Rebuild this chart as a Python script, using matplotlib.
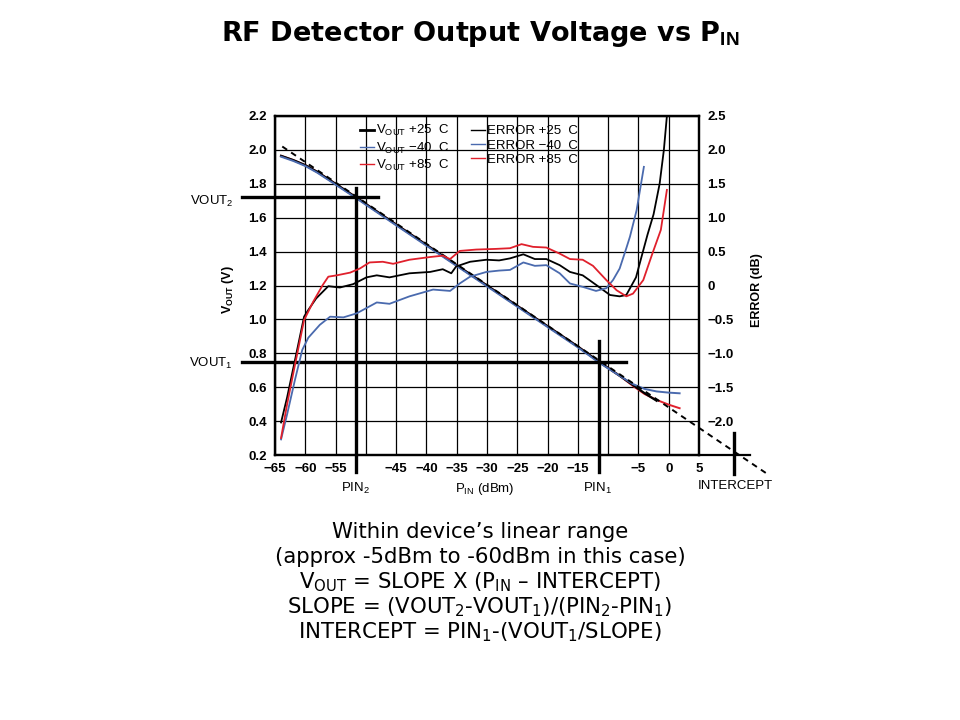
import numpy as np
import matplotlib
matplotlib.use('Agg')
import matplotlib.pyplot as plt

plt.rcParams['font.family'] = ['Liberation Sans', 'DejaVu Sans']
plt.rcParams['mathtext.fontset'] = 'custom'
plt.rcParams['mathtext.rm'] = 'Liberation Sans'
plt.rcParams['mathtext.bf'] = 'Liberation Sans:bold'

# ---- data ----
# output voltage curves (left axis, V)
pin_vout = [-64, -62, -60, -58, -55, -51.6, -45, -40, -35, -30, -25, -20, -15, -11.5, -8, -6, -4, -2, 0, 1.8]
vout_25 = [1.965, 1.94, 1.91, 1.87, 1.80, 1.72, 1.56, 1.44, 1.32, 1.20, 1.08, 0.96, 0.84, 0.75,
           0.665, 0.615, 0.565, 0.52, np.nan, np.nan]
vout_m40 = [1.96, 1.935, 1.905, 1.865, 1.795, 1.715, 1.555, 1.435, 1.315, 1.195, 1.075, 0.955, 0.835, 0.745,
            0.665, 0.62, 0.59, 0.575, 0.568, 0.564]
vout_85 = [1.965, 1.94, 1.91, 1.87, 1.80, 1.72, 1.56, 1.44, 1.32, 1.20, 1.08, 0.96, 0.84, 0.75,
           0.665, 0.61, 0.56, 0.525, 0.497, 0.476]

# ideal (dashed) line end points
pin_ideal = [-63.8, 16.2]
vout_ideal = [2.02, 0.09]

# error curves (right axis, dB)
pin_err_25 = [-64.0, -63.0, -61.7, -60.2, -59.5, -58.2, -56.2, -54.3, -52.1, -49.9, -48.2, -46.1, -42.8,
              -39.4, -37.3, -35.9, -35.1, -32.8, -30.1, -28.0, -26.2, -24.0, -22.1, -20.2, -18.0, -16.3,
              -14.2, -12.0, -9.7, -8.1, -7.0, -5.4, -4.5, -3.5, -2.5, -1.5, -0.8, -0.3]
err_25 = [-2.02, -1.65, -1.10, -0.46, -0.36, -0.19, -0.01, -0.03, 0.02, 0.12, 0.15, 0.12, 0.18,
          0.20, 0.24, 0.18, 0.28, 0.35, 0.38, 0.37, 0.40, 0.46, 0.39, 0.39, 0.30, 0.20,
          0.15, 0.01, -0.14, -0.16, -0.14, 0.12, 0.42, 0.75, 1.05, 1.50, 2.00, 2.50]

pin_err_m40 = [-64.0, -63.0, -61.7, -60.5, -59.5, -57.6, -55.9, -53.7, -51.5, -48.2, -46.1, -42.8, -38.9,
               -36.1, -34.5, -32.8, -30.1, -28.0, -26.2, -24.0, -22.1, -20.2, -18.0, -16.3, -14.2, -12.0,
               -10.3, -9.2, -8.1, -7.0, -6.4, -5.3, -4.1]
err_m40 = [-2.27, -1.90, -1.39, -0.95, -0.77, -0.58, -0.46, -0.47, -0.41, -0.25, -0.27, -0.16, -0.06,
           -0.08, 0.03, 0.13, 0.20, 0.22, 0.23, 0.34, 0.29, 0.30, 0.18, 0.03, -0.02, -0.08,
           -0.04, 0.08, 0.25, 0.55, 0.72, 1.11, 1.75]

pin_err_85 = [-64.0, -63.0, -61.7, -60.2, -58.7, -57.1, -56.2, -54.8, -52.6, -51.0, -49.4, -47.2, -45.5,
              -42.8, -39.4, -37.3, -36.1, -34.5, -31.8, -28.5, -26.2, -24.3, -22.4, -20.2, -18.0, -16.3,
              -14.2, -12.5, -10.3, -8.6, -7.0, -5.9, -4.2, -2.7, -1.3, -0.3]
err_85 = [-2.25, -1.75, -1.17, -0.51, -0.24, 0.01, 0.13, 0.15, 0.19, 0.25, 0.34, 0.35, 0.32,
          0.38, 0.42, 0.44, 0.39, 0.51, 0.53, 0.54, 0.55, 0.61, 0.57, 0.56, 0.47, 0.39,
          0.38, 0.29, 0.08, -0.07, -0.16, -0.12, 0.08, 0.47, 0.82, 1.41]

# construction lines
pin1, pin2, intercept = -11.5, -51.6, 10.7
vout1, vout2 = 0.75, 1.72

xtick_vals = [-65, -60, -55, -50, -45, -40, -35, -30, -25, -20, -15, -10, -5, 0, 5]
xtick_labels = ['\u221265', '\u221260', '\u221255', '', '\u221245', '\u221240', '\u221235', '\u221230',
                '\u221225', '\u221220', '\u221215', '', '\u22125', '0', '5']
ytick_vals = [0.2, 0.4, 0.6, 0.8, 1.0, 1.2, 1.4, 1.6, 1.8, 2.0, 2.2]
ytick_labels = ['0.2', '0.4', '0.6', '0.8', '1.0', '1.2', '1.4', '1.6', '1.8', '2.0', '2.2']
y2tick_vals = [-2.5, -2.0, -1.5, -1.0, -0.5, 0, 0.5, 1.0, 1.5, 2.0, 2.5]
y2tick_labels = ['', '\u22122.0', '\u22121.5', '\u22121.0', '\u22120.5', '0', '0.5', '1.0', '1.5', '2.0', '2.5']

black = 'black'
blue = '#4a6aae'
red = '#e0202c'

fig = plt.figure(figsize=(9.6, 7.2), dpi=100)
ax = fig.add_axes([275 / 960, 1 - 455 / 720, 424 / 960, 339 / 720])

ax.set_xlim(-65, 5)
ax.set_ylim(0.2, 2.2)
ax.set_xticks(xtick_vals)
ax.set_xticklabels(xtick_labels)
ax.set_yticks(ytick_vals)
ax.set_yticklabels(ytick_labels)
ax.grid(True, color='black', linewidth=0.9)
ax.set_axisbelow(True)
ax.tick_params(length=0, labelsize=9.5, pad=6)
for lab in ax.get_xticklabels() + ax.get_yticklabels():
    lab.set_fontweight('bold')
for sp in ax.spines.values():
    sp.set_linewidth(1.6)

# vout curves
ax.plot(pin_vout, vout_85, color=red, lw=1.4, zorder=3)
ax.plot(pin_vout, vout_25, color=black, lw=1.6, zorder=3)
ax.plot(pin_vout, vout_m40, color=blue, lw=1.4, zorder=3)
ax.plot(pin_ideal, vout_ideal, color='black', lw=1.4, ls=(0, (3, 2.5)), zorder=4, clip_on=False)

# construction lines
ax.plot([-70.4, -48.0], [vout2, vout2], color='black', lw=2.4, clip_on=False, zorder=5)
ax.plot([pin2, pin2], [0.10, 1.775], color='black', lw=2.4, clip_on=False, zorder=5)
ax.plot([-70.4, -7.1], [vout1, vout1], color='black', lw=2.4, clip_on=False, zorder=5)
ax.plot([pin1, pin1], [0.10, 0.87], color='black', lw=2.4, clip_on=False, zorder=5)
ax.plot([intercept, intercept], [0.09, 0.33], color='black', lw=2.4, clip_on=False, zorder=5)
ax.plot([5, 13.4], [0.2, 0.2], color='black', lw=1.6, clip_on=False, zorder=5)

# error curves on the right axis
ax2 = ax.twinx()
ax2.set_ylim(-2.5, 2.5)
ax2.set_yticks(y2tick_vals)
ax2.set_yticklabels(y2tick_labels)
ax2.tick_params(length=0, labelsize=9.5, pad=6)
for lab in ax2.get_yticklabels():
    lab.set_fontweight('bold')
for sp in ax2.spines.values():
    sp.set_linewidth(1.6)
ax2.plot(pin_err_25, err_25, color=black, lw=1.3)
ax2.plot(pin_err_m40, err_m40, color=blue, lw=1.3)
ax2.plot(pin_err_85, err_85, color=red, lw=1.3)

# legend
h = [
    ax2.plot([], [], color=black, lw=2.0, label='V$_{\\mathregular{OUT}}$ +25  C')[0],
    ax2.plot([], [], color=blue, lw=1.0, label='V$_{\\mathregular{OUT}}$ \u221240  C')[0],
    ax2.plot([], [], color=red, lw=1.0, label='V$_{\\mathregular{OUT}}$ +85  C')[0],
    ax2.plot([], [], color=black, lw=1.0, label='ERROR +25  C')[0],
    ax2.plot([], [], color=blue, lw=1.0, label='ERROR \u221240  C')[0],
    ax2.plot([], [], color=red, lw=1.0, label='ERROR +85  C')[0],
]
ax2.legend(handles=h, ncol=2, frameon=False, loc='upper left', bbox_to_anchor=(0.19, 0.99),
           fontsize=9.5, handlelength=1.1, handletextpad=0.15, columnspacing=1.6,
           labelspacing=0.15, borderpad=0.1, borderaxespad=0.2)

# axis titles
fig.text(228 / 960, 1 - 290 / 720, '$\\mathbf{V_{OUT}}$ (V)', rotation=90, fontsize=9,
         fontweight='bold', ha='center', va='center')
fig.text(757 / 960, 1 - 290 / 720, 'ERROR (dB)', rotation=90, fontsize=9,
         fontweight='bold', ha='center', va='center')
fig.text(485 / 960, 1 - 489 / 720, 'P$_{\\mathregular{IN}}$ (dBm)', fontsize=9.5, ha='center', va='center')
fig.text(355 / 960, 1 - 488 / 720, 'PIN$_{\\mathregular{2}}$', fontsize=9.5, ha='center', va='center')
fig.text(597 / 960, 1 - 488 / 720, 'PIN$_{\\mathregular{1}}$', fontsize=9.5, ha='center', va='center')
fig.text(735 / 960, 1 - 486 / 720, 'INTERCEPT', fontsize=9.5, ha='center', va='center')
fig.text(212 / 960, 1 - 201 / 720, 'VOUT$_{\\mathregular{2}}$', fontsize=9.5, ha='center', va='center')
fig.text(211 / 960, 1 - 363 / 720, 'VOUT$_{\\mathregular{1}}$', fontsize=9.5, ha='center', va='center')

# title
fig.text(0.5, 1 - 34 / 720, 'RF Detector Output Voltage vs P$_{\\mathbf{IN}}$', fontsize=19.5,
         fontweight='bold', family='DejaVu Sans', ha='center', va='center')

# notes under the chart
notes = [
    'Within device\u2019s linear range',
    '(approx -5dBm to -60dBm in this case)',
    'V$_{\\mathregular{OUT}}$ = SLOPE X (P$_{\\mathregular{IN}}$ \u2013 INTERCEPT)',
    'SLOPE = (VOUT$_{\\mathregular{2}}$-VOUT$_{\\mathregular{1}}$)/(PIN$_{\\mathregular{2}}$-PIN$_{\\mathregular{1}}$)',
    'INTERCEPT = PIN$_{\\mathregular{1}}$-(VOUT$_{\\mathregular{1}}$/SLOPE)',
]
for i, line in enumerate(notes):
    fig.text(0.5, 1 - (532 + 25 * i) / 720, line, fontsize=15.3, family='DejaVu Sans',
             ha='center', va='center')

fig.savefig('out.png', dpi=100)
